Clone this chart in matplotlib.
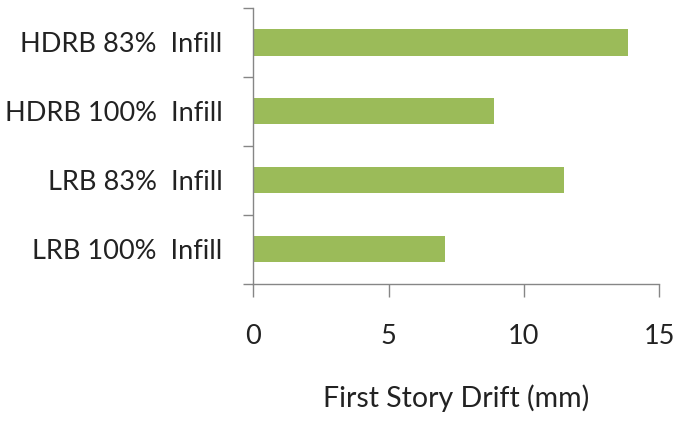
import matplotlib
matplotlib.use("Agg")
import matplotlib.pyplot as plt
import numpy as np

categories = ["LRB 100%  Infill", "LRB 83%  Infill", "HDRB 100%  Infill", "HDRB 83%  Infill"]
values = [7.1, 11.48, 8.89, 13.84]
xticks = [0, 5, 10, 15]
xlabel = "First Story Drift (mm)"

plt.rcParams['font.family'] = ['Lato', 'DejaVu Sans']

fig = plt.figure(figsize=(6.78, 4.26), dpi=100)
ax = fig.add_axes([253.3/678, 1-283.5/426, (659.3-253.3)/678, (283.5-8)/426])

y = np.arange(len(categories))
ax.barh(y, values, height=0.38, color="#9BBB59", zorder=2)

ax.set_xlim(0, 15)
ax.set_ylim(-0.5, len(categories)-0.5)
ax.set_xticks(xticks)
ax.set_xticklabels([str(t) for t in xticks])
ax.set_yticks(y)
ax.set_yticklabels(categories)
ax.set_yticks(np.arange(-0.5, len(categories)), minor=True)

axis_color = "#868686"
for s in ["top", "right"]:
    ax.spines[s].set_visible(False)
for s in ["left", "bottom"]:
    ax.spines[s].set_color(axis_color)
    ax.spines[s].set_linewidth(1.0)

ax.tick_params(axis="y", which="major", length=0, pad=22, labelsize=19.5, labelcolor="#222222")
ax.tick_params(axis="y", which="minor", length=7, width=1.0, color=axis_color, direction="out")
ax.tick_params(axis="x", which="major", length=9, width=1.0, color=axis_color, direction="out",
               pad=20, labelsize=19.5, labelcolor="#222222")

ax.set_xlabel(xlabel, fontsize=20.5, color="#222222", labelpad=26)

fig.savefig("out.png", dpi=100)
